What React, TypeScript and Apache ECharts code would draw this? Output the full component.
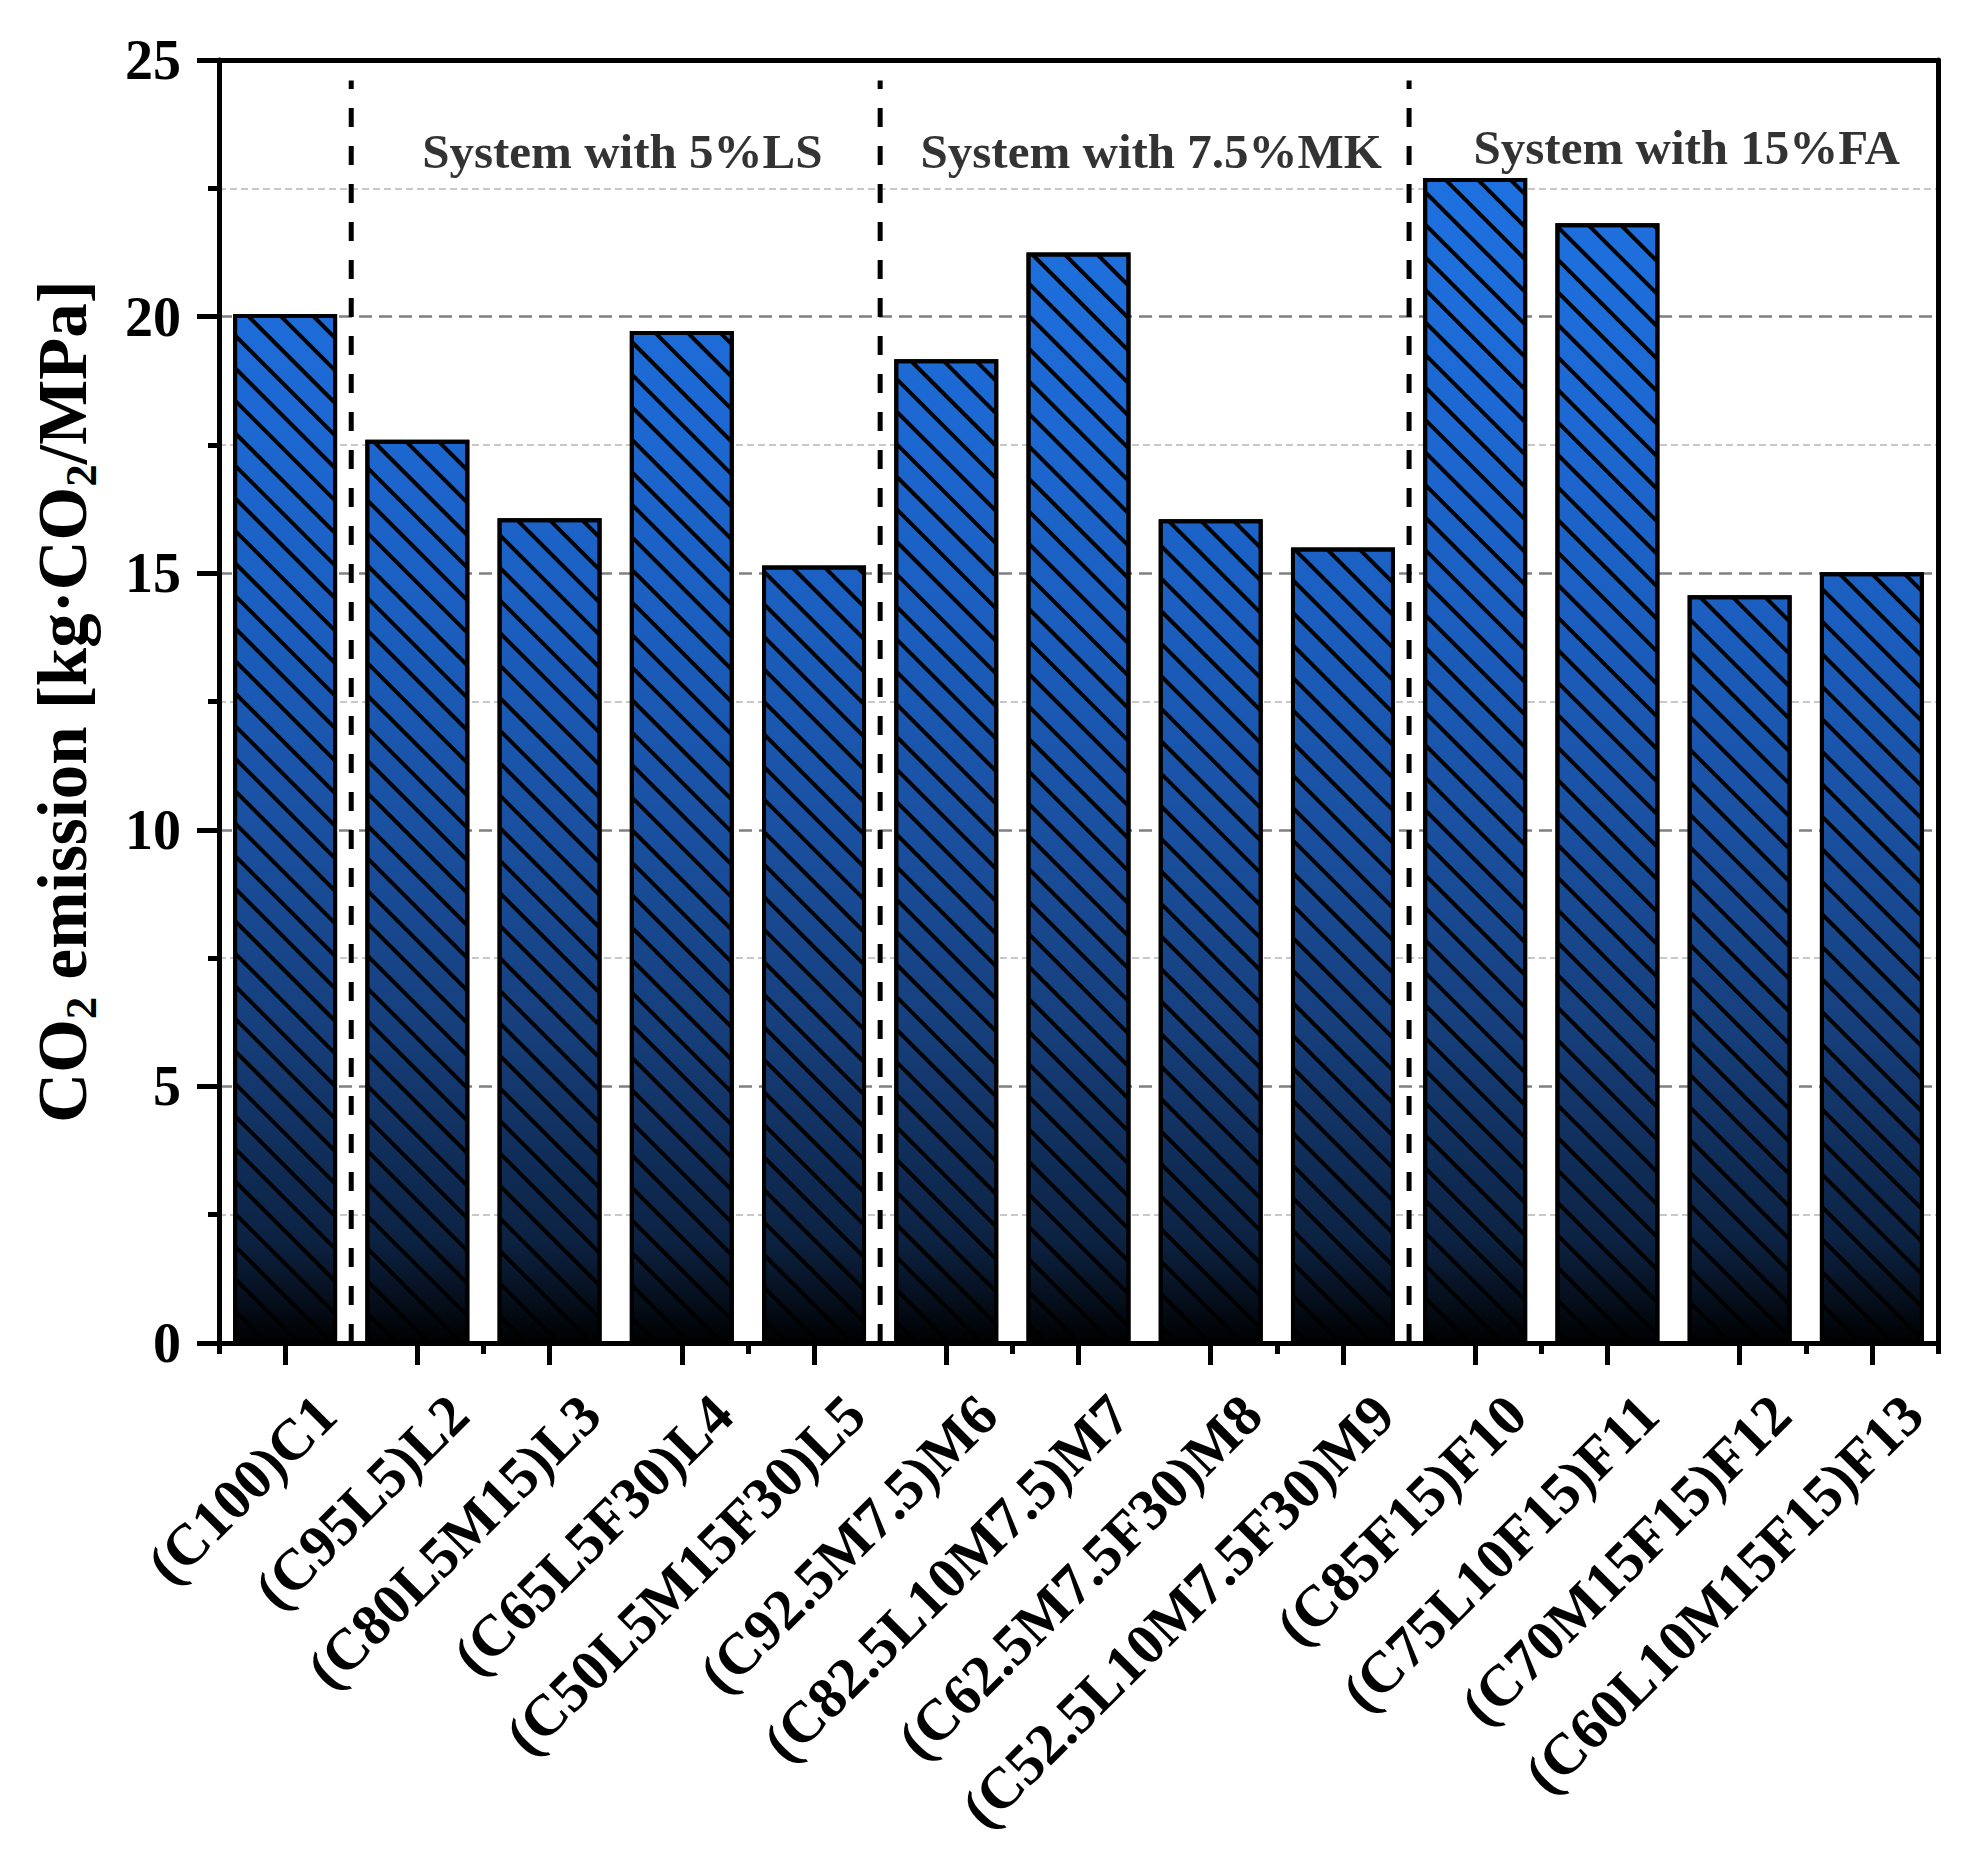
import React, { useEffect, useRef } from "react";
import * as echarts from "echarts";

const categories = [
  "(C100)C1",
  "(C95L5)L2",
  "(C80L5M15)L3",
  "(C65L5F30)L4",
  "(C50L5M15F30)L5",
  "(C92.5M7.5)M6",
  "(C82.5L10M7.5)M7",
  "(C62.5M7.5F30)M8",
  "(C52.5L10M7.5F30)M9",
  "(C85F15)F10",
  "(C75L10F15)F11",
  "(C70M15F15)F12",
  "(C60L10M15F15)F13",
];
const emissions = [20.05, 17.6, 16.07, 19.72, 15.15, 19.17, 21.25, 16.05, 15.5, 22.7, 21.82, 14.57, 15.02];

const separatorPositions = [0.5, 4.5, 8.5];
const separatorTop = 24.6;

const groupLabels = ["System with 5%LS", "System with 7.5%MK", "System with 15%FA"];
const groupLabelX = [2.55, 6.55, 10.6];
const groupLabelY = [23.22, 23.22, 23.3];

const yMin = 0;
const yMax = 25;
const yInterval = 5;

const FONT = "'Liberation Serif', 'Times New Roman', serif";

export default function App() {
  const ref = useRef<HTMLDivElement>(null);
  useEffect(() => {
    document.body.style.margin = "0";
    const chart = echarts.init(ref.current!, null, { renderer: "svg" });

    const gradient = new echarts.graphic.LinearGradient(
      0,
      60,
      0,
      1343,
      [
        { offset: 0, color: "rgb(31,114,226)" },
        { offset: 0.12, color: "rgb(30,112,222)" },
        { offset: 0.28, color: "rgb(29,104,210)" },
        { offset: 0.44, color: "rgb(27,94,190)" },
        { offset: 0.6, color: "rgb(26,80,160)" },
        { offset: 0.76, color: "rgb(22,62,122)" },
        { offset: 0.92, color: "rgb(12,34,66)" },
        { offset: 1, color: "rgb(0,0,0)" },
      ],
      true
    );

    const separatorSeries = separatorPositions.map((p) => ({
      type: "line",
      xAxisIndex: 2,
      yAxisIndex: 0,
      data: [
        [p, yMin],
        [p, separatorTop],
      ],
      symbol: "none",
      silent: true,
      z: 5,
      lineStyle: { color: "#000", width: 5, type: [19, 19] },
    }));

    const option = {
      animation: false,
      backgroundColor: "#fff",
      textStyle: { fontFamily: FONT },
      grid: {
        left: 219,
        right: 25,
        top: 60,
        bottom: 523,
        show: false,
      },
      xAxis: [
        {
          type: "category",
          data: categories,
          position: "bottom",
          z: 10,
          axisLine: { show: true, onZero: false, lineStyle: { color: "#000", width: 5 } },
          axisTick: { show: true, alignWithLabel: true, length: 22, lineStyle: { color: "#000", width: 5 } },
          axisLabel: {
            interval: 0,
            rotate: 45,
            fontSize: 58,
            fontWeight: "bold",
            fontFamily: FONT,
            color: "#000",
            margin: 21,
            verticalAlign: "top",
            lineHeight: 58,
            padding: [29, 0, 0, 0],
          },
          splitLine: { show: false },
        },
        {
          type: "category",
          data: categories,
          position: "bottom",
          z: 10,
          axisLine: { show: false, onZero: false },
          axisTick: { show: true, length: 11, lineStyle: { color: "#000", width: 5 } },
          axisLabel: { show: false },
          splitLine: { show: false },
        },
        {
          type: "value",
          min: -0.5,
          max: 12.5,
          position: "top",
          z: 10,
          axisLine: { show: true, onZero: false, lineStyle: { color: "#000", width: 5 } },
          axisTick: { show: false },
          axisLabel: { show: false },
          splitLine: { show: false },
        },
      ],
      yAxis: [
        {
          type: "value",
          min: yMin,
          max: yMax,
          interval: yInterval,
          position: "left",
          z: 0,
          name: "CO{sub|2} emission [kg·CO{sub|2}/MPa]",
          nameLocation: "middle",
          nameGap: 116,
          nameTextStyle: {
            fontSize: 69,
            fontWeight: "bold",
            fontFamily: FONT,
            color: "#000",
            lineHeight: 80,
            rich: {
              sub: {
                fontSize: 45,
                fontWeight: "bold",
                fontFamily: FONT,
                color: "#000",
                lineHeight: 44,
                verticalAlign: "bottom",
              },
            },
          },
          axisLine: { show: true, onZero: false, lineStyle: { color: "#000", width: 5 } },
          axisTick: { show: true, length: 22, lineStyle: { color: "#000", width: 5 } },
          minorTick: { show: true, splitNumber: 2, length: 11, lineStyle: { color: "#000", width: 5 } },
          axisLabel: {
            fontSize: 56,
            fontWeight: "bold",
            fontFamily: FONT,
            color: "#000",
            margin: 38,
          },
          splitLine: { show: true, lineStyle: { color: "#808080", width: 2.5, type: [13, 7] } },
          minorSplitLine: { show: true, lineStyle: { color: "#c8c8c8", width: 2, type: [7, 4] } },
        },
        {
          type: "value",
          min: yMin,
          max: yMax,
          interval: yInterval,
          position: "right",
          z: 10,
          axisLine: { show: true, onZero: false, lineStyle: { color: "#000", width: 5 } },
          axisTick: { show: false },
          axisLabel: { show: false },
          splitLine: { show: false },
        },
      ],
      series: [
        {
          type: "bar",
          xAxisIndex: 0,
          yAxisIndex: 0,
          data: emissions,
          barWidth: 104,
          z: 3,
          itemStyle: {
            color: gradient,
            borderColor: "#000",
            borderWidth: 4,
            decal: {
              symbol: "rect",
              symbolSize: 1,
              color: "#000",
              dashArrayX: [1, 0],
              dashArrayY: [3.5, 18.5],
              rotation: Math.PI / 4,
            },
          },
        },
        ...separatorSeries,
        {
          type: "scatter",
          xAxisIndex: 2,
          yAxisIndex: 0,
          symbolSize: 1,
          silent: true,
          z: 6,
          itemStyle: { color: "transparent" },
          data: groupLabels.map((n, i) => ({ name: n, value: [groupLabelX[i], groupLabelY[i]] })),
          label: {
            show: true,
            position: "inside",
            formatter: "{b}",
            fontSize: 49,
            fontWeight: "bold",
            fontFamily: FONT,
            color: "#000",
          },
        },
      ],
    };

    chart.setOption(option as any);
    return () => chart.dispose();
  }, []);
  return <div ref={ref} style={{ width: 1963, height: 1866 }} />;
}
